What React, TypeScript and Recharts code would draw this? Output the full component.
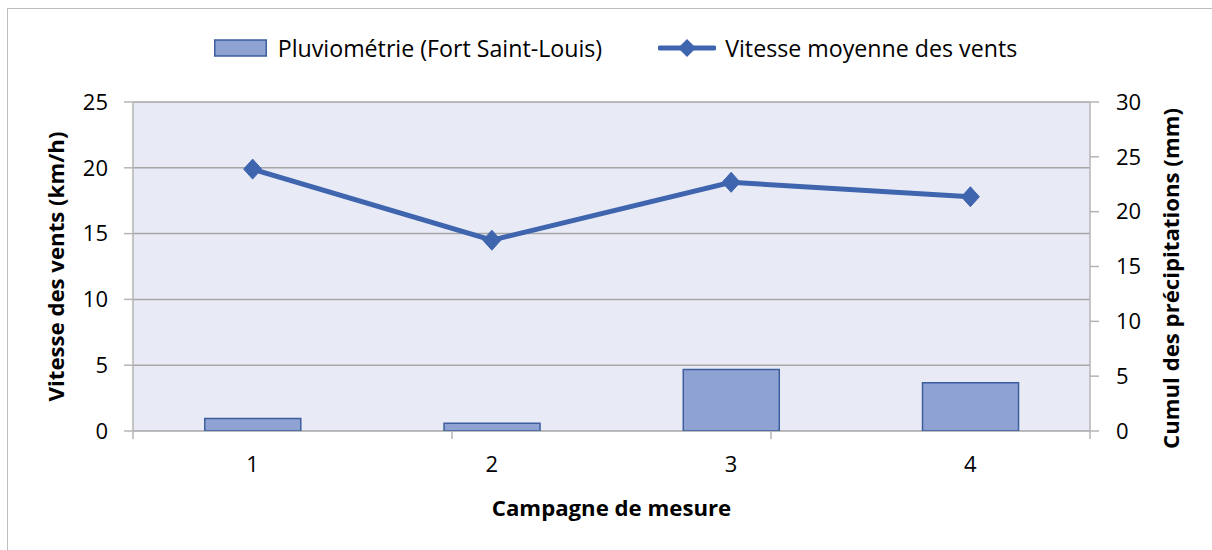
import React from 'react';
import { ComposedChart, Bar, Line, XAxis, YAxis, CartesianGrid, Legend } from 'recharts';

const campaigns = ['1', '2', '3', '4'];
const windSpeed = [19.9, 14.5, 18.9, 17.8];
const rainfall = [1.15, 0.7, 5.6, 4.4];
const leftTicks = [0, 5, 10, 15, 20, 25];
const rightTicks = [0, 5, 10, 15, 20, 25, 30];
const boundaryTicks = [0, 1, 2, 3, 4];
const seriesNames = ['Pluviométrie (Fort Saint-Louis)', 'Vitesse moyenne des vents'];
const axisTitles = {
  x: 'Campagne de mesure',
  left: 'Vitesse des vents (km/h)',
  right: 'Cumul des précipitations (mm)',
};

const data = campaigns.map((c, i) => ({ campaign: c, wind: windSpeed[i], rain: rainfall[i] }));

const FONT = '"Open Sans", sans-serif';
const LFS = 23.2;
const FS = 22;
const TFS = 22.2;
const LINE_COLOR = '#3F65AE';
const BAR_FILL = '#8FA3D3';
const BAR_STROKE = '#3D5E9E';
const GRID = '#A6A6A6';
const AXIS = '#B4B4B4';

const Diamond = (props: any) => {
  const { cx, cy } = props;
  if (cx == null || cy == null) return null;
  return (
    <path
      d={`M${cx},${cy - 10} L${cx + 9},${cy} L${cx},${cy + 10} L${cx - 9},${cy} Z`}
      fill={LINE_COLOR}
      stroke={LINE_COLOR}
    />
  );
};

const EmptyTick = () => <g />;

const LegendContent = () => (
  <div
    style={{
      height: 90,
      width: 1212,
      display: 'flex',
      justifyContent: 'center',
      paddingLeft: 19,
      boxSizing: 'border-box',
      fontFamily: FONT,
      fontSize: LFS,
      color: '#000',
    }}
  >
    <div style={{ height: 72, display: 'flex', alignItems: 'center' }}>
      <svg width={53} height={18} style={{ marginRight: 11 }}>
        <rect x={0.75} y={1} width={51.5} height={16} fill={BAR_FILL} stroke={BAR_STROKE} strokeWidth={1.5} />
      </svg>
      <span>{seriesNames[0]}</span>
      <svg width={58} height={22} style={{ marginLeft: 56, marginRight: 9 }}>
        <line x1={2} y1={11} x2={56} y2={11} stroke={LINE_COLOR} strokeWidth={5} strokeLinecap="round" />
        <path d="M29,2 L38,11 L29,20 L20,11 Z" fill={LINE_COLOR} />
      </svg>
      <span>{seriesNames[1]}</span>
    </div>
  </div>
);

const LeftTitle = (props: any) => {
  const vb = props.viewBox;
  const x = vb.x + 55;
  const y = vb.y + vb.height / 2;
  return (
    <text
      transform={`translate(${x}, ${y}) rotate(-90)`}
      textAnchor="middle"
      dominantBaseline="central"
      fontFamily={FONT}
      fontWeight="bold"
      fontSize={TFS}
      fill="#000"
    >
      {axisTitles.left}
    </text>
  );
};

const RightTitle = (props: any) => {
  const vb = props.viewBox;
  const x = vb.x + 80;
  const y = vb.y + vb.height / 2 + 12;
  return (
    <text
      transform={`translate(${x}, ${y}) rotate(-90)`}
      textAnchor="middle"
      dominantBaseline="central"
      fontFamily={FONT}
      fontWeight="bold"
      fontSize={TFS}
      fill="#000"
    >
      {axisTitles.right}
    </text>
  );
};

const XTitle = (props: any) => {
  const vb = props.viewBox;
  return (
    <text
      x={vb.x + vb.width / 2}
      y={vb.y + 75}
      textAnchor="middle"
      dominantBaseline="central"
      fontFamily={FONT}
      fontWeight="bold"
      fontSize={TFS}
      fill="#000"
    >
      {axisTitles.x}
    </text>
  );
};

export default function App() {
  const tickStyle = { fontFamily: FONT, fontSize: FS, fill: '#000' };
  return (
    <div
      style={{
        position: 'fixed',
        left: 0,
        top: 0,
        width: 1212,
        height: 550,
        overflow: 'hidden',
        background: '#fff',
      }}
    >
      <div
        style={{
          position: 'absolute',
          left: 7,
          top: 8,
          width: 1300,
          height: 700,
          border: '1px solid #BDBDBD',
        }}
      />
      <div style={{ position: 'absolute', left: 0, top: 0 }}>
        <ComposedChart
          width={1212}
          height={550}
          data={data}
          margin={{ top: 12, right: 0, bottom: 0, left: 0 }}
          barCategoryGap="30%"
        >
          <Legend verticalAlign="top" align="center" content={<LegendContent />} />
          <CartesianGrid
            xAxisId="cat"
            yAxisId="left"
            vertical={false}
            stroke={GRID}
            strokeWidth={1.5}
            fill="#E8EBF5"
            fillOpacity={1}
          />
          <XAxis
            xAxisId="bnd"
            type="number"
            domain={[0, 4]}
            ticks={boundaryTicks}
            allowDataOverflow
            height={1}
            axisLine={false}
            tick={EmptyTick}
            tickLine={{ stroke: AXIS, strokeWidth: 1.5 }}
            tickSize={8}
          />
          <XAxis
            xAxisId="cat"
            dataKey="campaign"
            height={118}
            axisLine={false}
            tickLine={false}
            tickSize={0}
            tickMargin={24}
            tick={tickStyle}
            label={XTitle}
          />
          <YAxis
            yAxisId="left"
            orientation="left"
            width={133}
            domain={[0, 25]}
            ticks={leftTicks}
            allowDataOverflow
            axisLine={{ stroke: AXIS, strokeWidth: 1.5 }}
            tickLine={{ stroke: AXIS, strokeWidth: 1.5 }}
            tickSize={9}
            tickMargin={16}
            tick={tickStyle}
            label={LeftTitle}
          />
          <YAxis
            yAxisId="right"
            orientation="right"
            width={122}
            domain={[0, 30]}
            ticks={rightTicks}
            allowDataOverflow
            axisLine={{ stroke: AXIS, strokeWidth: 1.5 }}
            tickLine={{ stroke: AXIS, strokeWidth: 1.5 }}
            tickSize={9}
            tickMargin={17}
            tick={{ ...tickStyle, textAnchor: 'start' }}
            label={RightTitle}
          />
          <Bar
            xAxisId="cat"
            yAxisId="right"
            dataKey="rain"
            name={seriesNames[0]}
            fill={BAR_FILL}
            stroke={BAR_STROKE}
            strokeWidth={1.5}
            isAnimationActive={false}
          />
          <Line
            xAxisId="cat"
            yAxisId="left"
            dataKey="wind"
            name={seriesNames[1]}
            stroke={LINE_COLOR}
            strokeWidth={5}
            dot={<Diamond />}
            activeDot={false}
            isAnimationActive={false}
          />
        </ComposedChart>
      </div>
    </div>
  );
}
